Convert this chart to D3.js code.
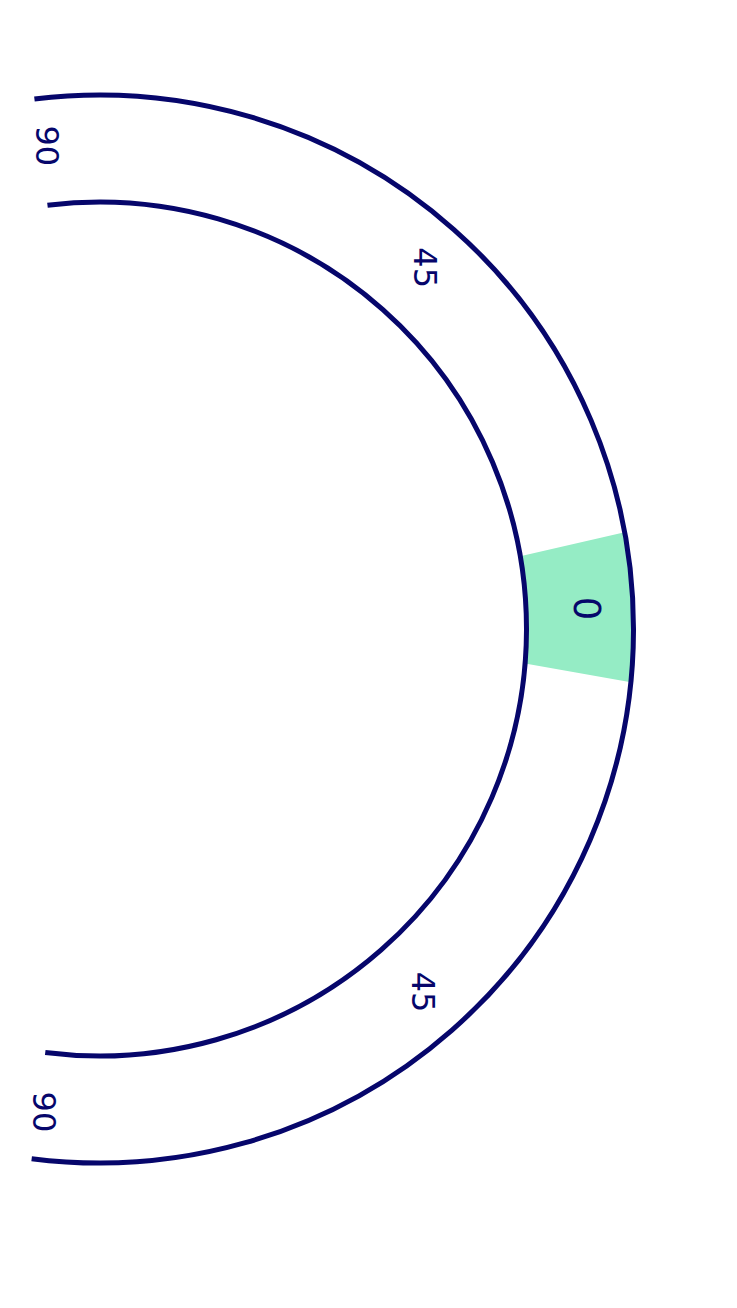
<!DOCTYPE html>
<html>
<head>
<meta charset="utf-8">
<script src="https://cdn.jsdelivr.net/npm/d3@7"></script>
<style>
  html, body { margin: 0; padding: 0; background: #ffffff; }
  svg { display: block; }
</style>
</head>
<body>
<div id="chart"></div>
<script>
// ---- data ----
const tickValues = [-90, -45, 45, 90];
const tickLabels = ["90", "45", "45", "90"];
const pointerValue = -2.4;
const pointerLabel = "0";
const bandInner = [-9.3, 4.2];
const bandOuter = [-9.9, 5.2];
const gaugeDomain = [-90, 90];

// ---- layout ----
const W = 737, H = 1308;
const cx = 99.5, cy = 629;
const rOuter = 534, rInner = 427, rLabel = 486;
const navy = "#06066b";
const green = "#95ecc5";
const font = "'DejaVu Sans', sans-serif";

const svg = d3.select("#chart").append("svg")
  .attr("width", W).attr("height", H);

// value -> screen angle (degrees, from +x, clockwise)
const angle = d3.scaleLinear().domain(gaugeDomain).range([-96.2, 96.5]);
const rad = d => d * Math.PI / 180;
const pt = (r, deg) => [cx + r * Math.cos(rad(deg)), cy + r * Math.sin(rad(deg))];

// band / pointer wedge
const p = d3.path();
const i0 = angle(bandInner[0]), i1 = angle(bandInner[1]);
const o0 = angle(bandOuter[0]), o1 = angle(bandOuter[1]);
p.moveTo(...pt(rInner, i0));
p.lineTo(...pt(rOuter, o0));
p.arc(cx, cy, rOuter, rad(o0), rad(o1), false);
p.lineTo(...pt(rInner, i1));
p.arc(cx, cy, rInner, rad(i1), rad(i0), true);
p.closePath();
svg.append("path").attr("d", p.toString()).attr("fill", green);

// arcs
const ext = 0.8;
[rOuter, rInner].forEach(r => {
  const a = d3.path();
  const a0 = angle(gaugeDomain[0]) - ext, a1 = angle(gaugeDomain[1]) + ext;
  a.moveTo(...pt(r, a0));
  a.arc(cx, cy, r, rad(a0), rad(a1), false);
  svg.append("path").attr("d", a.toString())
    .attr("fill", "none").attr("stroke", navy).attr("stroke-width", 5);
});

// tick labels
svg.selectAll("text.tick").data(tickValues).join("text")
  .attr("class", "tick")
  .attr("transform", (d) => {
    const [x, y] = pt(rLabel, angle(d));
    return `translate(${x},${y}) rotate(90)`;
  })
  .attr("text-anchor", "middle")
  .attr("dominant-baseline", "central")
  .attr("font-family", font)
  .attr("font-size", 32)
  .attr("fill", navy)
  .text((d, i) => tickLabels[i]);

// pointer label
const [px, py] = pt(487, angle(pointerValue));
svg.append("text")
  .attr("transform", `translate(${px},${py}) rotate(90)`)
  .attr("text-anchor", "middle")
  .attr("dominant-baseline", "central")
  .attr("font-family", font)
  .attr("font-size", 37)
  .attr("fill", navy)
  .text(pointerLabel);
</script>
</body>
</html>
